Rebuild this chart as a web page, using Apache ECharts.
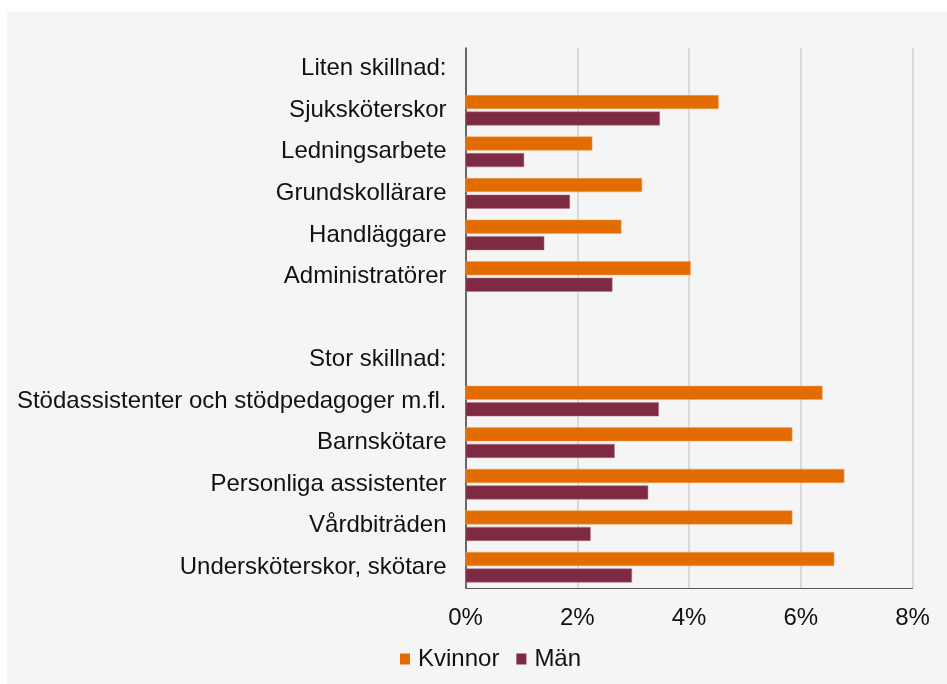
<!DOCTYPE html>
<html>
<head>
<meta charset="utf-8">
<script src="https://cdn.jsdelivr.net/npm/echarts@6/dist/echarts.min.js"></script>
<style>
  html, body { margin: 0; padding: 0; background: #ffffff; }
  #chart { width: 947px; height: 684px; }
</style>
</head>
<body>
<div id="chart"></div>
<script>
// Occupational groups, grouped by size of the gender gap (header rows carry no values)
const categories = [
  'Liten skillnad:',
  'Sjuksköterskor',
  'Ledningsarbete',
  'Grundskollärare',
  'Handläggare',
  'Administratörer',
  '',
  'Stor skillnad:',
  'Stödassistenter och stödpedagoger m.fl.',
  'Barnskötare',
  'Personliga assistenter',
  'Vårdbiträden',
  'Undersköterskor, skötare'
];

// Share (%) per group
const kvinnor = [null, 4.53, 2.27, 3.16, 2.79, 4.03, null, null, 6.39, 5.85, 6.78, 5.85, 6.60];
const man     = [null, 3.48, 1.05, 1.87, 1.41, 2.63, null, null, 3.46, 2.67, 3.27, 2.24, 2.98];

// Percent axis ticks
const xTicks = [0, 2, 4, 6, 8];

const seriesNames = ['Kvinnor', 'Män'];
const colors = ['#E36C00', '#7D2A42'];

const chart = echarts.init(document.getElementById('chart'), null, { renderer: 'canvas' });

const labelFont = '"Liberation Sans", Arial, sans-serif';

chart.setOption({
  backgroundColor: '#ffffff',
  animation: false,
  graphic: [{
    type: 'rect',
    z: -10,
    silent: true,
    shape: { x: 7, y: 12, width: 940, height: 672 },
    style: { fill: '#f5f5f5' }
  }],
  grid: { left: 465.5, right: 34.5, top: 48, bottom: 96, containLabel: false },
  legend: {
    data: seriesNames,
    left: 395,
    top: 642,
    icon: 'rect',
    itemWidth: 10,
    itemHeight: 11,
    itemGap: 17,
    itemStyle: { borderWidth: 0 },
    textStyle: { fontFamily: labelFont, fontSize: 24, color: '#111', padding: [0, 0, 0, 3] }
  },
  xAxis: {
    type: 'value',
    min: xTicks[0],
    max: xTicks[xTicks.length - 1],
    interval: 2,
    axisLine: { show: true, lineStyle: { color: '#595959', width: 1 } },
    axisTick: { show: false },
    splitLine: { show: true, lineStyle: { color: '#cfcfcf', width: 1.5 } },
    axisLabel: {
      margin: 18,
      fontFamily: labelFont,
      fontSize: 24,
      color: '#111',
      formatter: v => v + '%'
    }
  },
  yAxis: {
    type: 'category',
    inverse: true,
    data: categories,
    axisLine: { show: true, lineStyle: { color: '#404040', width: 1.5 } },
    axisTick: { show: false },
    axisLabel: {
      margin: 19,
      fontFamily: labelFont,
      fontSize: 24,
      color: '#111',
      interval: 0
    }
  },
  series: [
    {
      name: seriesNames[0],
      type: 'bar',
      data: kvinnor,
      barWidth: 14,
      barGap: '18%',
      itemStyle: { color: colors[0], borderColor: '#f0a060', borderWidth: 0.5 }
    },
    {
      name: seriesNames[1],
      type: 'bar',
      data: man,
      barWidth: 14,
      barGap: '18%',
      itemStyle: { color: colors[1], borderColor: '#b07888', borderWidth: 0.5 }
    }
  ]
});
</script>
</body>
</html>
